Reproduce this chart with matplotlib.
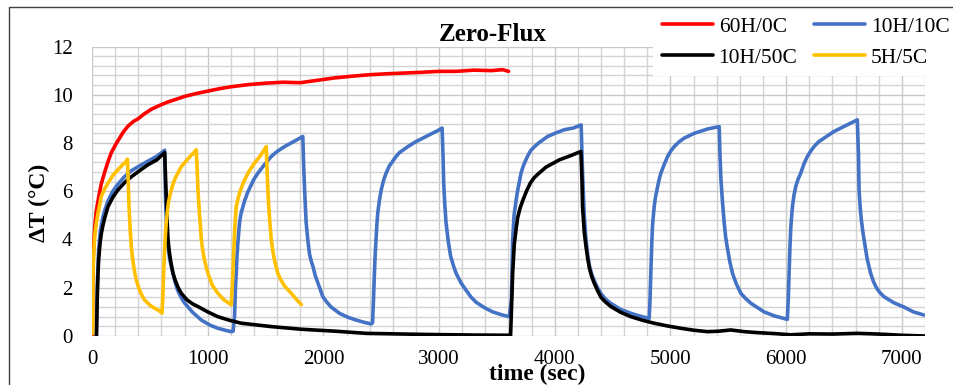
import matplotlib
matplotlib.use('Agg')
import matplotlib.pyplot as plt
from matplotlib.lines import Line2D
from matplotlib.ticker import MultipleLocator

plt.rcParams['font.family'] = ['Liberation Serif', 'DejaVu Serif']

# --- data (time in s, delta T in C) ---
t_60h = [3, 6, 9, 14, 20, 27, 35, 43, 52, 65, 80, 95, 110, 140, 167, 200, 225, 270, 311, 360,
         397, 450, 513, 580, 656, 720, 800, 900, 1000, 1100, 1200, 1350, 1500, 1650, 1800,
         1950, 2100, 2250, 2400, 2550, 2700, 2850, 3000, 3150, 3300, 3450, 3550, 3600]
dt_60h = [0, 1.8, 3.0, 3.7, 4.2, 4.7, 5.1, 5.35, 5.6, 5.95, 6.3, 6.55, 6.8, 7.25, 7.6, 7.9, 8.1,
          8.45, 8.7, 8.9, 9.0, 9.2, 9.4, 9.55, 9.7, 9.8, 9.93, 10.05, 10.15, 10.25, 10.33, 10.42,
          10.48, 10.52, 10.5, 10.6, 10.7, 10.77, 10.83, 10.87, 10.9, 10.93, 10.97, 10.97, 11.02,
          11.0, 11.04, 10.97]

t_10h10c = [38, 42, 45, 52, 58, 65, 72, 81, 95, 110, 138, 180, 225, 280, 340, 410, 484, 560, 628,
            634, 640, 645, 652, 660, 670, 680, 700, 720, 740, 770, 800, 870, 945, 1020, 1088,
            1150, 1204, 1220,
            1232, 1240, 1247, 1253, 1260, 1268, 1275, 1285, 1295, 1319, 1345, 1370, 1400, 1434,
            1490, 1549, 1600, 1664, 1740, 1822,
            1830, 1840, 1851, 1865, 1880, 1895, 1909, 1930, 1952, 1975, 1995, 2030, 2067, 2139,
            2210, 2283, 2350, 2413,
            2425, 2433, 2441, 2448, 2455, 2462, 2470, 2485, 2500, 2520, 2542, 2570, 2600, 2630,
            2657, 2730, 2801, 2900, 3003, 3026,
            3034, 3040, 3050, 3060, 3080, 3100, 3125, 3147, 3190, 3233, 3275, 3320, 3390, 3463,
            3540, 3607,
            3625, 3636, 3648, 3665, 3678, 3690, 3708, 3728, 3750, 3770, 3794, 3825, 3860, 3938,
            4010, 4082, 4160, 4228,
            4235, 4240, 4248, 4255, 4262, 4270, 4285, 4300, 4320, 4341, 4370, 4400, 4440, 4485,
            4570, 4658, 4740, 4816,
            4823, 4830, 4838, 4845, 4859, 4870, 4885, 4900, 4917, 4945, 4975, 5000, 5032, 5075,
            5118, 5205, 5320, 5421,
            5428, 5436, 5449, 5464, 5477, 5490, 5512, 5536, 5570, 5608, 5650, 5694, 5809, 5900, 6010,
            6018, 6025, 6032, 6040, 6054, 6068, 6083, 6103, 6126, 6155, 6183, 6210, 6241, 6280,
            6327, 6414, 6528, 6615,
            6625, 6630, 6640, 6650, 6662, 6673, 6700, 6730, 6755, 6780, 6810, 6845, 6930, 7018,
            7100, 7190]
dt_10h10c = [0, 1.2, 2.0, 3.0, 3.6, 4.0, 4.35, 4.6, 4.95, 5.2, 5.6, 6.0, 6.3, 6.6, 6.85, 7.05,
             7.25, 7.45, 7.7,
             6.0, 5.0, 4.5, 4.0, 3.6, 3.25, 3.0, 2.6, 2.2, 1.9, 1.6, 1.37, 0.98, 0.66, 0.45, 0.32,
             0.24, 0.18, 0.2,
             0.8, 2.0, 2.6, 3.3, 3.8, 4.3, 4.7, 5.0, 5.2, 5.6, 5.95, 6.2, 6.5, 6.75,
             7.1, 7.44, 7.65, 7.85, 8.05, 8.27,
             7.0, 5.8, 4.7, 4.0, 3.4, 3.1, 2.9, 2.5, 2.2, 1.9, 1.63, 1.4, 1.2, 0.94,
             0.78, 0.66, 0.57, 0.5,
             0.55, 1.5, 2.6, 3.4, 4.0, 4.6, 5.1, 5.65, 6.06, 6.45, 6.75, 7.05, 7.25, 7.45,
             7.6, 7.85, 8.06, 8.3, 8.55, 8.62,
             7.5, 6.3, 5.4, 4.7, 3.9, 3.3, 2.9, 2.6, 2.2, 1.9, 1.62, 1.4, 1.18, 1.0,
             0.88, 0.8,
             1.5, 4.0, 5.0, 5.6, 6.0, 6.3, 6.75, 7.05, 7.3, 7.5, 7.7, 7.85, 8.0, 8.27,
             8.42, 8.55, 8.62, 8.75,
             7.5, 6.75, 5.8, 5.0, 4.5, 4.0, 3.35, 2.9, 2.55, 2.3, 2.0, 1.75, 1.52, 1.35,
             1.1, 0.94, 0.82, 0.73,
             1.5, 2.6, 3.8, 4.6, 5.36, 5.75, 6.1, 6.45, 6.75, 7.1, 7.44, 7.65, 7.85, 8.05,
             8.2, 8.4, 8.58, 8.68,
             7.5, 6.5, 5.6, 4.7, 4.1, 3.7, 3.1, 2.6, 2.15, 1.77, 1.55, 1.36, 1.0, 0.83, 0.69,
             1.5, 2.6, 3.6, 4.5, 5.36, 5.85, 6.2, 6.5, 6.75, 7.15, 7.44, 7.65, 7.85, 8.05,
             8.2, 8.48, 8.75, 8.96,
             7.5, 6.06, 5.3, 4.8, 4.35, 4.0, 3.2, 2.6, 2.25, 2.0, 1.8, 1.63, 1.38, 1.2,
             1.0, 0.87]

t_10h50c = [38, 42, 45, 52, 58, 65, 72, 81, 95, 110, 138, 180, 225, 280, 340, 410, 484, 560, 628,
            634, 640, 648, 657, 668, 680, 700, 720, 745, 772, 820, 870, 916, 1000, 1088, 1190,
            1290, 1549, 1808, 2100, 2370, 2700, 2945, 3300, 3618,
            3625, 3636, 3650, 3665, 3679, 3700, 3722, 3755, 3790, 3820, 3852, 3924, 4039, 4150, 4226,
            4235, 4240, 4248, 4255, 4270, 4285, 4300, 4320, 4341, 4370, 4400, 4440, 4485, 4570,
            4658, 4760, 4859, 4970, 5090, 5200, 5320, 5420, 5521, 5640, 5751, 5900, 6040, 6200,
            6400, 6615, 6800, 7000, 7200]
dt_10h50c = [0, 0.8, 1.5, 2.6, 3.2, 3.6, 3.95, 4.26, 4.6, 4.9, 5.36, 5.75, 6.06, 6.35, 6.6, 6.85,
             7.1, 7.3, 7.6,
             6.8, 6.0, 4.9, 4.0, 3.5, 3.1, 2.6, 2.3, 2.0, 1.77, 1.5, 1.33, 1.22, 1.0, 0.8, 0.65,
             0.53, 0.39, 0.28, 0.2, 0.11, 0.08, 0.06, 0.04, 0.03,
             1.0, 2.6, 3.8, 4.4, 4.9, 5.3, 5.6, 6.0, 6.35, 6.55, 6.7, 7.0, 7.3, 7.5, 7.65,
             6.5, 5.36, 4.8, 4.3, 3.7, 3.2, 2.8, 2.45, 2.19, 1.88, 1.6, 1.4, 1.22, 0.98,
             0.8, 0.65, 0.53, 0.42, 0.32, 0.24, 0.18, 0.2, 0.25, 0.18, 0.14, 0.1, 0.05, 0.09,
             0.08, 0.11, 0.08, 0.03, 0.0]

t_5h5c = [5, 7, 9, 14, 20, 28, 38, 48, 60, 81, 110, 138, 180, 225, 265, 300, 306,
          312, 320, 330, 340, 350, 360, 370, 383, 400, 420, 437, 455, 500, 541, 580, 605,
          612, 619, 625, 630, 636, 642, 650, 660, 672, 686, 700, 720, 772, 830, 880, 901,
          908, 916, 923, 930, 938, 945, 957, 970, 985, 1002, 1040, 1088, 1140, 1204,
          1210, 1218, 1224, 1230, 1238, 1247, 1262, 1280, 1300, 1319, 1360, 1405, 1460, 1506,
          1512, 1520, 1526, 1533, 1541, 1549, 1562, 1575, 1590, 1606, 1630, 1660, 1722, 1770, 1810]
dt_5h5c = [0.1, 1.5, 2.6, 3.3, 3.9, 4.35, 4.7, 5.0, 5.3, 5.8, 6.1, 6.34, 6.65, 6.9, 7.1, 7.25, 7.33,
           6.6, 5.36, 4.4, 3.7, 3.25, 2.9, 2.6, 2.32, 2.05, 1.8, 1.63, 1.49, 1.28, 1.15, 1.05, 0.95,
           1.6, 2.6, 3.3, 3.8, 4.3, 4.7, 5.1, 5.5, 5.8, 6.06, 6.3, 6.55, 7.02, 7.35, 7.6, 7.72,
           7.0, 6.06, 5.5, 5.0, 4.5, 4.0, 3.55, 3.2, 2.9, 2.6, 2.1, 1.77, 1.5, 1.29,
           1.9, 2.6, 3.4, 4.0, 4.8, 5.36, 5.7, 6.0, 6.25, 6.47, 6.85, 7.17, 7.5, 7.85,
           7.0, 6.06, 5.5, 5.0, 4.5, 4.0, 3.55, 3.2, 2.9, 2.6, 2.35, 2.1, 1.77, 1.5, 1.3]

W, H = 954, 385
fig = plt.figure(figsize=(W / 100, H / 100), dpi=100)
ax = fig.add_axes([92 / W, 1 - 336 / H, 833 / W, 289.5 / H])

lw = 2.6
style = dict(lw=lw, solid_joinstyle='round', solid_capstyle='round')
l1, = ax.plot(t_60h, dt_60h, color='#FF0000', label='60H/0C', **style)
l2, = ax.plot(t_10h10c, dt_10h10c, color='#4472C4', label='10H/10C', **style)
l3, = ax.plot(t_10h50c, dt_10h50c, color='#000000', label='10H/50C', **style)
l4, = ax.plot(t_5h5c, dt_5h5c, color='#FFC000', label='5H/5C', **style)

ax.set_xlim(0, 7200)
ax.set_ylim(0, 12)
ax.xaxis.set_major_locator(MultipleLocator(1000))
ax.xaxis.set_minor_locator(MultipleLocator(200))
ax.yaxis.set_major_locator(MultipleLocator(2))
ax.yaxis.set_minor_locator(MultipleLocator(0.4))
ax.grid(which='major', color='#C8C8C8', lw=1.0)
ax.grid(which='minor', color='#D4D4D4', lw=1.0)
ax.set_axisbelow(True)
for s in ax.spines.values():
    s.set_visible(False)
ax.tick_params(which='both', length=0)
ax.tick_params(axis='x', labelsize=15, pad=10)
ax.tick_params(axis='y', labelsize=15, pad=14)

ax.set_xlabel('time (sec)', fontsize=17, fontweight='bold')
ax.xaxis.set_label_coords(0.534, -0.095)
ax.set_ylabel('ΔT (°C)', fontsize=17, fontweight='bold')
ax.yaxis.set_label_coords(-0.05, 0.46)

fig.text(493 / W, 1 - 41 / H, 'Zero-Flux', ha='center', va='baseline',
         fontsize=18, fontweight='bold')

leg = ax.legend(handles=[l1, l3, l2, l4], ncol=2, loc='upper left',
                bbox_to_anchor=(653 / W, 1 - 8 / H), bbox_transform=fig.transFigure,
                fontsize=15.5, frameon=True, fancybox=False, framealpha=1,
                edgecolor='none', facecolor='white', borderaxespad=0,
                handlelength=2.4, handletextpad=0.25, columnspacing=0.75,
                labelspacing=0.5, borderpad=0.4)
leg.get_frame().set_linewidth(0)

# outer chart border (only left and top edges are visible in the reference)
fig.add_artist(Line2D([9 / W, 9 / W, 1], [0, 1 - 7 / H, 1 - 7 / H],
                      transform=fig.transFigure, color='#404040', lw=1.0))

fig.savefig('out.png', dpi=100)
plt.close(fig)
